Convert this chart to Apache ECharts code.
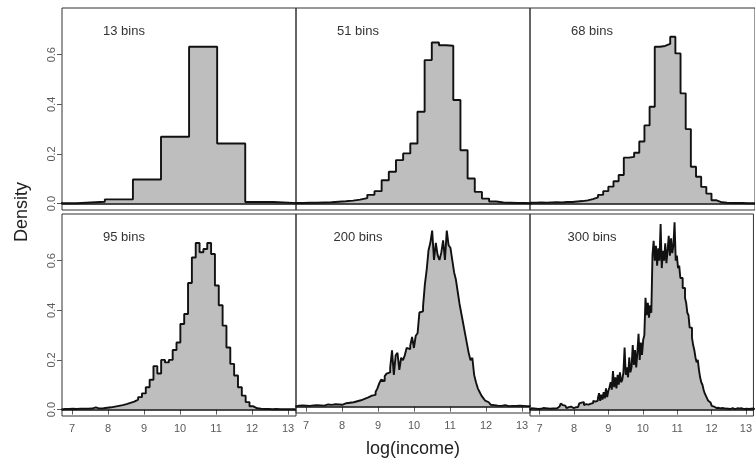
<!DOCTYPE html>
<html>
<head>
<meta charset="utf-8">
<script src="https://cdn.jsdelivr.net/npm/echarts@6/dist/echarts.min.js"></script>
<style>
  html, body { margin: 0; padding: 0; background: #ffffff; }
  #chart { width: 755px; height: 459px; }
</style>
</head>
<body>
<div id="chart"></div>
<script>
// Histograms of log(income) drawn with different numbers of bins
const panelLabels = ['13 bins', '51 bins', '68 bins', '95 bins', '200 bins', '300 bins'];

// left edge of the first listed bin and the bin width for each panel
const firstEdges = [5.57, 6.512, 6.599, 6.70, 6.70, 6.70];
const binWidths = [0.78, 0.199, 0.149, 0.1067, 0.0507, 0.0338];

// densities, one value per bin
const density13 = [0.001, 0.001, 0.007, 0.017, 0.097, 0.269, 0.632, 0.242, 0.006, 0.001];

const density51 = [
  0.002, 0.002, 0.003, 0.003, 0.004, 0.005, 0.007, 0.009, 0.012, 0.016,
  0.022, 0.035, 0.05, 0.094, 0.128, 0.175, 0.202, 0.242, 0.37, 0.578,
  0.649, 0.638, 0.636, 0.417, 0.215, 0.101, 0.047, 0.02, 0.008, 0.004,
  0.003, 0.002, 0.002, 0.001
];

const density68 = [
  0.003, 0.003, 0.004, 0.003, 0.004, 0.005, 0.004, 0.006, 0.006, 0.008,
  0.01, 0.013, 0.018, 0.025, 0.035, 0.05, 0.068, 0.09, 0.115, 0.185,
  0.188, 0.205, 0.25, 0.315, 0.39, 0.632, 0.635, 0.643, 0.672, 0.605,
  0.444, 0.30, 0.148, 0.108, 0.067, 0.04, 0.013, 0.005, 0.003, 0.002,
  0.002, 0.002, 0.001, 0.001, 0.001
];

const density95 = [
  0.002, 0.002, 0.003, 0.002, 0.003, 0.003, 0.003, 0.004, 0.009, 0.004,
  0.005, 0.007, 0.009, 0.012, 0.015, 0.018, 0.022, 0.027, 0.032, 0.04,
  0.05, 0.065, 0.09, 0.12, 0.175, 0.145, 0.2, 0.19, 0.2, 0.24,
  0.27, 0.345, 0.385, 0.51, 0.613, 0.671, 0.634, 0.647, 0.671, 0.627,
  0.5, 0.42, 0.338, 0.25, 0.184, 0.137, 0.09, 0.056, 0.03, 0.013,
  0.005, 0.003, 0.002, 0.002, 0.001, 0.002, 0.001, 0.001, 0.001, 0.001,
  0.001
];

const density200 = [
  0.003, 0.004, 0.002, 0.005, 0.003, 0.004, 0.006, 0.003, 0.004, 0.005,
  0.004, 0.006, 0.003, 0.005, 0.008, 0.004, 0.006, 0.009, 0.005, 0.007,
  0.006, 0.01, 0.007, 0.009, 0.012, 0.008, 0.011, 0.014, 0.01, 0.016,
  0.013, 0.018, 0.015, 0.022, 0.019, 0.026, 0.024, 0.032, 0.03, 0.038,
  0.036, 0.045, 0.05, 0.048, 0.06, 0.075, 0.095, 0.11, 0.105, 0.125,
  0.135, 0.14, 0.16, 0.23, 0.13, 0.21, 0.22, 0.15, 0.2, 0.19,
  0.21, 0.24, 0.235, 0.25, 0.285, 0.24, 0.29, 0.3, 0.385, 0.39,
  0.41, 0.5, 0.56, 0.64, 0.67, 0.72, 0.6, 0.67, 0.62, 0.6,
  0.63, 0.68, 0.6, 0.72, 0.66, 0.65, 0.6, 0.55, 0.52, 0.47,
  0.42, 0.38, 0.34, 0.3, 0.26, 0.22, 0.19, 0.2, 0.13, 0.1,
  0.075, 0.06, 0.045, 0.035, 0.025, 0.018, 0.012, 0.008, 0.006, 0.007,
  0.004, 0.005, 0.003, 0.004, 0.006, 0.003, 0.002, 0.004, 0.003, 0.002,
  0.003, 0.002, 0.004, 0.002, 0.003, 0.002, 0.002, 0.003, 0.002
];

const density300 = [
  0.003, 0.005, 0.002, 0.004, 0.006, 0.003, 0.004, 0.002, 0.005, 0.003,
  0.004, 0.006, 0.003, 0.005, 0.002, 0.004, 0.007, 0.003, 0.005, 0.004,
  0.006, 0.004, 0.008, 0.005, 0.007, 0.012, 0.02, 0.024, 0.018, 0.022,
  0.016, 0.009, 0.006, 0.01, 0.007, 0.012, 0.008, 0.006, 0.011, 0.009,
  0.012, 0.01, 0.014, 0.025, 0.028, 0.02, 0.03, 0.018, 0.022, 0.016,
  0.02, 0.018, 0.024, 0.03, 0.026, 0.035, 0.032, 0.04, 0.036, 0.045,
  0.066, 0.035, 0.06, 0.04, 0.07, 0.045, 0.085, 0.05, 0.075, 0.09,
  0.11, 0.08, 0.155, 0.09, 0.13, 0.085, 0.14, 0.1, 0.15, 0.11,
  0.12, 0.15, 0.25, 0.14, 0.17, 0.13, 0.21, 0.15, 0.17, 0.26,
  0.18, 0.24, 0.17, 0.23, 0.305, 0.2, 0.27, 0.22, 0.28, 0.3,
  0.45, 0.38, 0.43, 0.37, 0.42, 0.39, 0.62, 0.68, 0.6, 0.66,
  0.58, 0.65, 0.6, 0.748, 0.57, 0.64, 0.6, 0.67, 0.59, 0.64,
  0.7, 0.62, 0.69, 0.63, 0.66, 0.755, 0.6, 0.62, 0.57, 0.58,
  0.53, 0.53, 0.49, 0.49, 0.45, 0.43, 0.39, 0.38, 0.33, 0.33,
  0.29, 0.26, 0.24, 0.21, 0.19, 0.2, 0.16, 0.13, 0.11, 0.1,
  0.08, 0.065, 0.055, 0.045, 0.035, 0.028, 0.02, 0.015, 0.012, 0.008,
  0.006, 0.004, 0.007, 0.003, 0.005, 0.004, 0.006, 0.003, 0.004, 0.005,
  0.003, 0.005, 0.002, 0.004, 0.006, 0.003, 0.002, 0.004, 0.005, 0.003,
  0.004, 0.002, 0.005, 0.003, 0.002, 0.004, 0.003, 0.005, 0.002, 0.004,
  0.003, 0.002, 0.004, 0.003
];

const densities = [density13, density51, density68, density95, density200, density300];

const xTicks = [7, 8, 9, 10, 11, 12, 13];
const yTicks = [0, 0.2, 0.4, 0.6];

// panel layout (3 columns x 2 rows)
const colLeft = [62, 296, 530];
const colWidth = 234;
const rowTop = [8, 214];
const rowHeight = 202;
const xRange = [6.72, 13.22];
const yRange = [-0.026, 0.788];

const FONT = '"Liberation Sans", Arial, Helvetica, sans-serif';
const TICK_COLOR = '#5a5a5a';

// Outline of a histogram as (edge, density) pairs for a stepped line
function histogramOutline(start, width, dens) {
  const pts = [[start, 0]];
  dens.forEach((d, i) => pts.push([start + i * width, d]));
  pts.push([start + dens.length * width, 0]);
  return pts;
}

const grids = [], xAxes = [], yAxes = [], series = [], graphics = [];

for (let p = 0; p < 6; p++) {
  const row = Math.floor(p / 3), col = p % 3;
  const left = colLeft[col], top = rowTop[row];
  grids.push({
    left: left, top: top, width: colWidth, height: rowHeight,
    show: true, borderColor: '#333333', borderWidth: 1,
    backgroundColor: 'transparent'
  });
  const bottomRow = row === 1;
  xAxes.push({
    gridIndex: p, type: 'value', min: xRange[0], max: xRange[1],
    axisLine: { show: false }, splitLine: { show: false },
    axisTick: { show: bottomRow, length: 5, customValues: xTicks,
                lineStyle: { color: TICK_COLOR, width: 1 } },
    axisLabel: { show: bottomRow, customValues: xTicks, margin: 7,
                 fontSize: 11, color: TICK_COLOR, fontFamily: FONT },
    name: (bottomRow && col === 1) ? 'log(income)' : '',
    nameLocation: 'middle', nameGap: 27,
    nameTextStyle: { fontSize: 18, color: '#222222', fontFamily: FONT }
  });
  const leftCol = col === 0;
  yAxes.push({
    gridIndex: p, type: 'value', min: yRange[0], max: yRange[1],
    axisLine: { show: false }, splitLine: { show: false },
    axisTick: { show: leftCol, length: 5, customValues: yTicks,
                lineStyle: { color: TICK_COLOR, width: 1 } },
    axisLabel: { show: leftCol, customValues: yTicks, rotate: 90, margin: 5,
                 fontSize: 11, color: TICK_COLOR, fontFamily: FONT,
                 formatter: v => v.toFixed(1) }
  });
  series.push({
    type: 'line', xAxisIndex: p, yAxisIndex: p,
    data: histogramOutline(firstEdges[p], binWidths[p], densities[p]),
    step: 'end', symbol: 'none', showSymbol: false, clip: true,
    lineStyle: { color: '#111111', width: 1.9 },
    areaStyle: { color: '#bebebe', opacity: 1, origin: 0 },
    silent: true,
    markLine: {
      silent: true, symbol: ['none', 'none'],
      label: { show: false },
      lineStyle: { color: '#111111', width: 1.5, type: 'solid' },
      data: [{ yAxis: 0 }]
    }
  });
  graphics.push({
    type: 'text', x: left + 62, y: top + 23,
    style: { text: panelLabels[p], fill: '#333333',
             font: '13px ' + FONT, textAlign: 'center', textVerticalAlign: 'middle' }
  });
}

graphics.push({
  type: 'text', x: 22, y: rowTop[0] + (rowTop[1] + rowHeight - rowTop[0]) / 2,
  rotation: Math.PI / 2,
  style: { text: 'Density', fill: '#222222', font: '18px ' + FONT,
           textAlign: 'center', textVerticalAlign: 'middle' }
});

const chart = echarts.init(document.getElementById('chart'), null, { renderer: 'canvas' });
chart.setOption({
  animation: false,
  backgroundColor: '#ffffff',
  grid: grids,
  xAxis: xAxes,
  yAxis: yAxes,
  series: series,
  graphic: graphics
});
</script>
</body>
</html>
